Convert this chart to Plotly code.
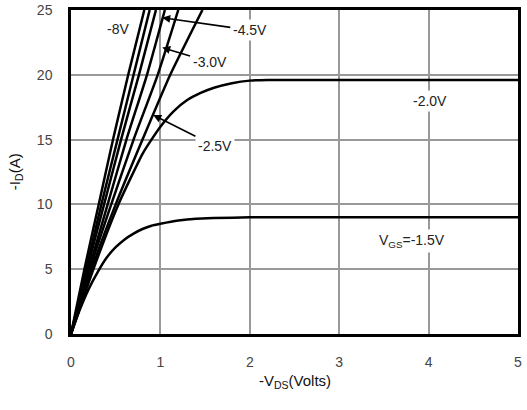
import plotly.graph_objects as go

# Output characteristics: -I_D (A) vs -V_DS (V) for several V_GS
I_steep = [0, 5, 10, 15, 20, 25]
V_m10 = [0, 0.15, 0.31, 0.47, 0.64, 0.82]
V_m8 = [0, 0.17, 0.34, 0.52, 0.70, 0.88]
V_m6 = [0, 0.18, 0.37, 0.56, 0.76, 0.95]
V_m45 = [0, 0.20, 0.41, 0.62, 0.85, 1.05]
V_m30 = [0, 0.21, 0.45, 0.70, 0.97, 1.20]
V_m25 = [0, 0.23, 0.50, 0.80, 1.11, 1.47]

V_m20 = [0, 0.25, 0.53, 0.80, 0.90, 1.0, 1.15, 1.3, 1.45, 1.6, 1.8, 2.0, 2.2, 3.0, 4.0, 5.0]
I_m20 = [0, 5.0, 10.0, 13.9, 15.0, 16.0, 17.2, 18.05, 18.6, 19.0, 19.35, 19.55, 19.6, 19.6, 19.6, 19.6]

V_m15 = [0, 0.1, 0.2, 0.3, 0.4, 0.5, 0.6, 0.7, 0.8, 0.9, 1.0, 1.2, 1.4, 1.6, 2.0, 3.0, 4.0, 5.0]
I_m15 = [0, 1.9, 3.5, 4.8, 5.9, 6.7, 7.3, 7.75, 8.1, 8.35, 8.5, 8.75, 8.9, 8.95, 9.0, 9.0, 9.0, 9.0]

x_ticks = [0, 1, 2, 3, 4, 5]
y_ticks = [0, 5, 10, 15, 20, 25]

fig = go.Figure()
line = dict(color="black", width=2.5, shape="spline", smoothing=0.5)
for name, v in [("-10V", V_m10), ("-8V", V_m8), ("-6V", V_m6), ("-4.5V", V_m45),
                ("-3.0V", V_m30), ("-2.5V", V_m25)]:
    fig.add_trace(go.Scatter(x=v, y=I_steep, mode="lines", line=line, name=name))
fig.add_trace(go.Scatter(x=V_m20, y=I_m20, mode="lines", line=line, name="-2.0V"))
fig.add_trace(go.Scatter(x=V_m15, y=I_m15, mode="lines", line=line, name="-1.5V"))

font = dict(family="Liberation Sans, Arial, sans-serif", size=14, color="#222")
tick_font = dict(family="Liberation Sans, Arial, sans-serif", size=14, color="#444")
title_font = dict(family="Liberation Sans, Arial, sans-serif", size=15, color="#111")
ann = dict(font=font, bgcolor="white", borderpad=2, xref="x", yref="y")
arrow = dict(showarrow=True, arrowhead=2, arrowsize=1, arrowwidth=1.6, arrowcolor="black",
             axref="x", ayref="y")

fig.add_annotation(x=0.53, y=23.5, text="-8V", showarrow=False, **ann)
fig.add_annotation(x=1.02, y=24.4, ax=2.0, ay=23.45, text="-4.5V", **arrow, **ann)
fig.add_annotation(x=1.02, y=22.1, ax=1.55, ay=21.0, text="-3.0V", **arrow, **ann)
fig.add_annotation(x=0.92, y=16.9, ax=1.61, ay=14.5, text="-2.5V", **arrow, **ann)
fig.add_annotation(x=4.02, y=18.0, text="-2.0V", showarrow=False, **ann)
fig.add_annotation(x=3.81, y=7.2, text="V<sub>GS</sub>=-1.5V", showarrow=False, **ann)

# axis titles as paper annotations for exact placement
fig.add_annotation(xref="paper", yref="paper", x=0.5, y=-0.148, yanchor="middle",
                   text="-V<sub>DS</sub>(Volts)", showarrow=False, font=title_font)
fig.add_annotation(xref="paper", yref="paper", x=-0.125, y=0.5, xanchor="center", yanchor="middle",
                   textangle=-90, text="-I<sub>D</sub>(A)", showarrow=False, font=title_font)

axis_common = dict(showgrid=True, gridcolor="#999", gridwidth=1.5, zeroline=False,
                   showline=True, linecolor="black", linewidth=2.5, mirror=True,
                   ticks="", tickfont=tick_font, automargin=False,
                   ticklabeloverflow="allow")
fig.update_xaxes(range=[0, 5], tickvals=x_ticks, ticklabelstandoff=13, **axis_common)
fig.update_yaxes(range=[0, 25], tickvals=y_ticks, ticklabelstandoff=13, **axis_common)

fig.update_layout(width=527, height=410, margin=dict(l=71, r=9, t=10, b=76),
                  plot_bgcolor="white", paper_bgcolor="white", showlegend=False,
                  font=font)

fig.write_html("out.html", config={"displayModeBar": False},
               post_script="document.body.style.margin='0';document.body.style.overflow='hidden';")
